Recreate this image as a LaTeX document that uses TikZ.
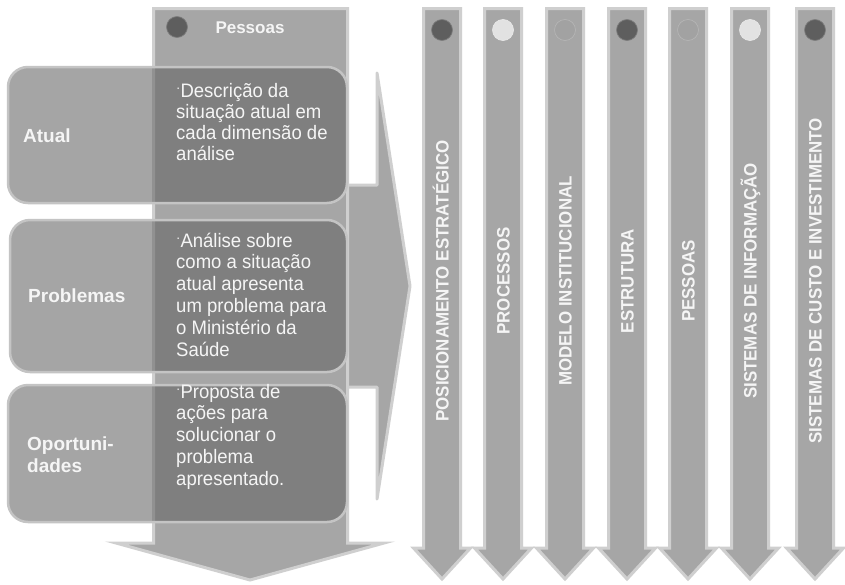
\documentclass[tikz,border=0pt]{standalone}
\usepackage{fontspec}
\setmainfont{Liberation Sans}
\newfontfamily\boxfont[FakeStretch=0.95]{Liberation Sans}
\newfontfamily\colfont[FakeStretch=0.94]{Liberation Sans}
\definecolor{colfill}{HTML}{A6A6A6}
\definecolor{colrim}{HTML}{CFCFCF}
\definecolor{boxgray}{HTML}{626262}
\definecolor{boxrim}{HTML}{C4C4C4}
\definecolor{dotdark}{HTML}{5E5E5E}
\definecolor{dotlight}{HTML}{E2E2E2}
\definecolor{dotmid}{HTML}{A2A2A2}
\definecolor{txtw}{HTML}{F5F5F5}
\tikzset{
  colshape/.style={fill=colfill, draw=colrim, line width=3pt, line join=miter},
  arrshape/.style={fill=colfill, draw=colrim, line width=3pt, line join=round},
  boxshape/.style={draw=boxrim, line width=2.5pt, rounded corners=20pt, fill=boxgray, fill opacity=0.57},
  lbl/.style={anchor=base west, inner sep=0, text=txtw, font=\fontsize{19}{21}\selectfont\bfseries},
  txt/.style={anchor=base west, inner sep=0, text=txtw, font=\boxfont\fontsize{19.5}{21}\selectfont},
  hdr/.style={anchor=base, inner sep=0, text=txtw, font=\fontsize{17}{20}\selectfont\bfseries},
  vlbl/.style={anchor=base, rotate=90, inner sep=0, text=txtw, font=\colfont\fontsize{18}{20}\selectfont\bfseries},
  dotshape/.style={circle, minimum size=21pt, inner sep=0, line width=0.7pt, draw=#1!80!white}
}
\newcommand{\smallbul}{\raisebox{0.45ex}{\scalebox{0.7}{·}}}
\begin{document}
\begin{tikzpicture}[x=1pt, y=-1pt]
\useasboundingbox (0,0) rectangle (845,584);
\fill[white] (0,0) rectangle (845,584);
% right-pointing arrow (behind the big column)
\draw[arrshape] (346,185) -- (377,185) -- (377,73) -- (410,286) -- (377,499) -- (377,387) -- (346,387) -- cycle;
% big down column
\draw[colshape] (153.5,8.5) -- (347.5,8.5) -- (347.5,543) -- (384,543) -- (250,580) -- (116,543) -- (153.5,543) -- cycle;
\node[dotshape=dotdark, fill=dotdark] (hdot) at (177,27) {};
\node[hdr] (hdr) at (250,33) {Pessoas};
% boxes
\draw[boxshape] (8,67) rectangle (347,203);
\draw[boxshape] (10,220) rectangle (347,372);
\draw[boxshape] (8,385) rectangle (347,522);
% box labels
\node[lbl] (l1) at (23,142) {Atual};
\node[lbl] (l2) at (28,302) {Problemas};
\node[lbl] (l3a) at (27,450) {Oportuni-};
\node[lbl] (l3b) at (27,472) {dades};
% box texts
\foreach \t [count=\i] in {{\smallbul Descrição da},situação atual em,cada dimensão de,análise}
  \node[txt] (ta\i) at (176,{97+21.2*(\i-1)}) {\t};
\foreach \t [count=\i] in {{\smallbul Análise sobre},como a situação,atual apresenta,um problema para,o Ministério da,Saúde}
  \node[txt] (tb\i) at (176,{247+21.8*(\i-1)}) {\t};
\foreach \t [count=\i] in {{\smallbul Proposta de},ações para,solucionar o,problema,apresentado.}
  \node[txt] (tc\i) at (176,{398+21.8*(\i-1)}) {\t};
% right columns
\foreach \cx/\dc/\lab [count=\i] in {
  442/dotdark/POSICIONAMENTO ESTRATÉGICO,
  503/dotlight/PROCESSOS,
  565/dotmid/MODELO INSTITUCIONAL,
  627/dotdark/ESTRUTURA,
  688/dotmid/PESSOAS,
  750/dotlight/SISTEMAS DE INFORMAÇÃO,
  815/dotdark/SISTEMAS DE CUSTO E INVESTIMENTO}{
  \draw[colshape] (\cx-18.5,8.5) -- (\cx+18.5,8.5) -- (\cx+18.5,548) -- (\cx+28.5,548) -- (\cx,579) -- (\cx-28.5,548) -- (\cx-18.5,548) -- cycle;
  \node[dotshape=\dc, fill=\dc] (d\i) at (\cx,30) {};
  \node[vlbl] (c\i) at (\cx+6.5,281) {\lab};
}
\end{tikzpicture}
\end{document}
